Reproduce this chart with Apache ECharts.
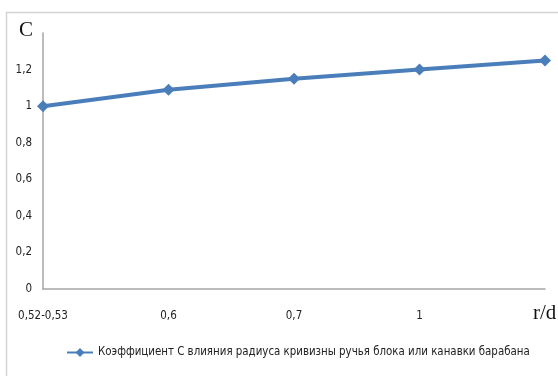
<!DOCTYPE html>
<html>
<head>
<meta charset="utf-8">
<script src="https://cdn.jsdelivr.net/npm/echarts@6/dist/echarts.min.js"></script>
<style>
html,body{margin:0;padding:0;background:#fff;}
#chart{width:558px;height:376px;}
</style>
</head>
<body>
<div id="chart"></div>
<script>
const categories = ['0,52-0,53', '0,6', '0,7', '1', ''];
const seriesName = 'Коэффициент С влияния радиуса кривизны ручья блока или канавки барабана';
const values = [1.0, 1.09, 1.15, 1.2, 1.25];
const yAxisTitle = 'C';
const xAxisTitle = 'r/d';

const font = '"DejaVu Sans Condensed", "DejaVu Sans", sans-serif';
const chart = echarts.init(document.getElementById('chart'));
chart.setOption({
  animation: false,
  backgroundColor: '#fff',
  grid: { left: 43, right: 13, top: 33, bottom: 87, containLabel: false },
  xAxis: {
    type: 'category',
    data: categories,
    boundaryGap: false,
    axisLine: { lineStyle: { color: '#a6a6a6', width: 1.5 } },
    axisTick: { show: false },
    axisLabel: { color: '#222', fontFamily: font, fontSize: 11.5, margin: 21, interval: 0 },
    splitLine: { show: false }
  },
  yAxis: {
    type: 'value',
    min: 0, max: 1.4, interval: 0.2,
    axisLine: { show: true, lineStyle: { color: '#a6a6a6', width: 1.5 } },
    axisTick: { show: false },
    splitLine: { show: false },
    axisLabel: {
      color: '#222', fontFamily: font, fontSize: 11.5, margin: 11,
      padding: [6, 0, 0, 0],
      showMaxLabel: false,
      formatter: v => String(Math.round(v * 10) / 10).replace('.', ',')
    }
  },
  legend: {
    bottom: 13, left: 61,
    itemWidth: 26, itemHeight: 11, itemGap: 4,
    textStyle: { color: '#222', fontFamily: font, fontSize: 11.4 },
    data: [seriesName]
  },
  series: [{
    name: seriesName,
    type: 'line',
    data: values,
    symbol: 'diamond',
    symbolSize: 12,
    lineStyle: { color: '#4a7ebb', width: 4 },
    itemStyle: { color: '#4a7ebb' }
  }],
  graphic: [
    { type: 'rect', silent: true, z: -1, shape: { x: 6.5, y: 12.5, width: 600, height: 400 },
      style: { fill: null, stroke: '#d4d4d4', lineWidth: 1.5 } },
    { type: 'text', left: 19, top: 20, style: { text: yAxisTitle, font: '21px "Liberation Serif", "Times New Roman", serif', fill: '#111' } },
    { type: 'text', left: 533, top: 303, style: { text: xAxisTitle, font: '21px "Liberation Serif", "Times New Roman", serif', fill: '#111' } }
  ]
});
</script>
</body>
</html>
